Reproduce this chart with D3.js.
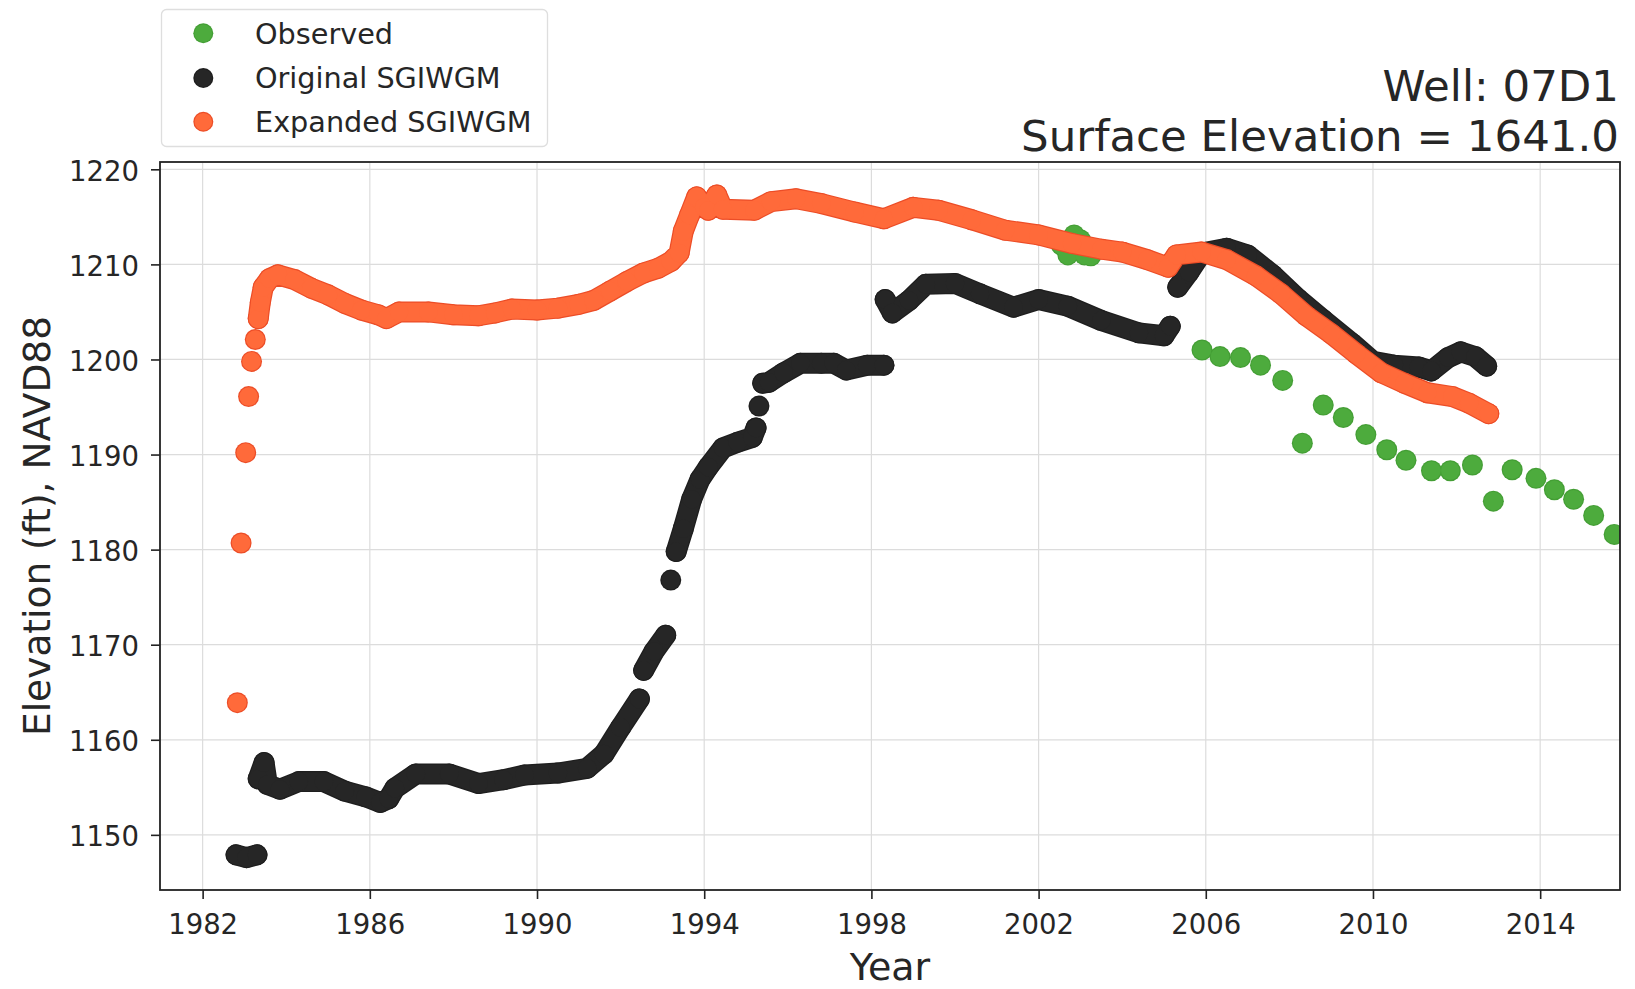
<!DOCTYPE html>
<html>
<head>
<meta charset="utf-8">
<script src="https://cdn.jsdelivr.net/npm/d3@7"></script>
<style>
  html, body { margin: 0; padding: 0; background: #fff; }
  svg { display: block; font-family: "DejaVu Sans", sans-serif; }
</style>
</head>
<body>
<svg id="chart" width="1635" height="989"></svg>
<script>
// ---------------- DATA ----------------
const xTickYears = [1982, 1986, 1990, 1994, 1998, 2002, 2006, 2010, 2014];
const yTickValues = [1150, 1160, 1170, 1180, 1190, 1200, 1210, 1220];

const seriesNames = ["Observed", "Original SGIWGM", "Expanded SGIWGM"];

// Observed (discrete measurements)
const obsYears  = [2002.55, 2002.7, 2002.85, 2003.0, 2003.1, 2003.25, 2003.32,
                   2005.91, 2006.34, 2006.83, 2007.31, 2007.84, 2008.31, 2008.81, 2009.29,
                   2009.83, 2010.33, 2010.79, 2011.4, 2011.85, 2012.38, 2012.88, 2013.33,
                   2013.9, 2014.34, 2014.8, 2015.28, 2015.77];
const obsValues = [1212.0, 1211.0, 1213.1, 1212.6, 1211.0, 1210.9, 1211.6,
                   1201.0, 1200.3, 1200.2, 1199.4, 1197.8, 1191.2, 1195.2, 1193.9,
                   1192.1, 1190.5, 1189.4, 1188.3, 1188.3, 1188.9, 1185.1, 1188.4,
                   1187.5, 1186.3, 1185.3, 1183.6, 1181.6];

// Original SGIWGM (null = gap in the record)
const origYears = [1982.8, 1983.05, 1983.3, null,
  1983.33, 1983.47, 1983.55, 1983.85, 1984.3, 1984.9, 1985.4, 1985.9, 1986.25, 1986.45, 1986.6,
  1987.1, 1987.9, 1988.6, 1989.2, 1989.7, 1990.5, 1991.2, 1991.6, 1992.0, 1992.45, null,
  1992.55, 1992.8, 1993.08, null,
  1993.2, null,
  1993.33, 1993.5, 1993.7, 1993.9, 1994.1, 1994.45, 1994.8, 1995.15, 1995.24, null,
  1995.31, null,
  1995.4, 1995.55, 1995.9, 1996.3, 1996.8, 1997.1, 1997.4, 1997.9, 1998.3, null,
  1998.33, 1998.5, 1998.9, 1999.3, 2000.0, 2000.6, 2001.4, 2002.0, 2002.7, 2003.5, 2004.4, 2005.0, 2005.15, null,
  2005.33, 2005.6, 2005.9, 2006.5, 2007.0, 2007.6, 2008.2, 2008.8, 2009.5, 2010.0, 2010.5, 2011.1,
  2011.4, 2011.8, 2012.1, 2012.45, 2012.72];
const origValues = [1147.9, 1147.6, 1147.9, null,
  1155.9, 1157.6, 1155.3, 1154.8, 1155.6, 1155.6, 1154.6, 1154.0, 1153.4, 1153.8, 1154.9,
  1156.4, 1156.4, 1155.4, 1155.8, 1156.3, 1156.5, 1157.0, 1158.5, 1161.3, 1164.3, null,
  1167.3, 1169.3, 1171.0, null,
  1176.8, null,
  1179.8, 1182.2, 1185.3, 1187.4, 1188.7, 1190.7, 1191.3, 1191.8, 1192.8, null,
  1195.1, null,
  1197.5, 1197.6, 1198.6, 1199.6, 1199.6, 1199.6, 1198.9, 1199.4, 1199.4, null,
  1206.3, 1204.9, 1206.2, 1207.9, 1208.0, 1206.9, 1205.5, 1206.3, 1205.6, 1204.1, 1202.8, 1202.5, 1203.5, null,
  1207.6, 1209.2, 1211.2, 1211.7, 1211.0, 1208.9, 1206.4, 1204.2, 1201.7, 1199.8, 1199.4, 1199.2,
  1198.8, 1200.2, 1200.8, 1200.3, 1199.3];

// Expanded SGIWGM (null = gap between separate points)
const expYears = [1982.83, null, 1982.92, null, 1983.03, null, 1983.10, null, 1983.17, null, 1983.26, null,
  1983.33, 1983.38, 1983.45, 1983.6, 1983.8, 1984.2, 1984.6, 1985.0, 1985.4, 1985.8, 1986.2, 1986.4,
  1986.7, 1987.4, 1988.0, 1988.6, 1989.0, 1989.4, 1990.0, 1990.5, 1991.0, 1991.35, 1991.75, 1992.15,
  1992.55, 1992.9, 1993.2, 1993.4, 1993.5, 1993.65, 1993.82, 1994.0, 1994.1, 1994.3, 1994.45, 1995.2,
  1995.6, 1996.2, 1996.8, 1997.6, 1998.3, 1999.0, 1999.6, 2000.4, 2001.2, 2002.0, 2002.8, 2003.5,
  2004.0, 2004.6, 2005.1, 2005.3, 2005.9, 2006.5, 2007.2, 2007.8, 2008.4, 2009.0, 2009.6, 2010.2,
  2010.75, 2011.3, 2011.9, 2012.3, 2012.77];
const expValues = [1163.9, null, 1180.7, null, 1190.2, null, 1196.1, null, 1199.8, null, 1202.1, null,
  1204.3, 1206.0, 1207.6, 1208.5, 1208.9, 1208.4, 1207.5, 1206.8, 1205.9, 1205.2, 1204.7, 1204.3,
  1205.0, 1205.0, 1204.7, 1204.6, 1204.9, 1205.3, 1205.2, 1205.4, 1205.8, 1206.2, 1207.2, 1208.2,
  1209.1, 1209.6, 1210.3, 1211.2, 1213.5, 1215.2, 1217.1, 1216.0, 1215.7, 1217.3, 1215.8, 1215.7,
  1216.6, 1216.9, 1216.4, 1215.5, 1214.8, 1216.0, 1215.7, 1214.7, 1213.6, 1213.1, 1212.2, 1211.6,
  1211.3, 1210.5, 1209.7, 1211.0, 1211.3, 1210.5, 1208.8, 1206.9, 1204.6, 1202.7, 1200.6, 1198.6,
  1197.5, 1196.5, 1196.1, 1195.4, 1194.3];

// ---------------- LAYOUT / STYLE ----------------
const plot = { left: 160, right: 1620, top: 162, bottom: 890 };
const R = 10.5;
const styles = {
  "Observed":        { face: "#4dab3d", edge: "#449e35", connect: false },
  "Original SGIWGM": { face: "#262626", edge: "#1e1e1e", connect: true },
  "Expanded SGIWGM": { face: "#ff6a3a", edge: "#ec4d27", connect: true }
};
const textColor = "#262626";

const svg = d3.select("#chart");
const x = d3.scaleLinear().domain([1980.98, 2015.91]).range([plot.left, plot.right]);
const y = d3.scaleLinear().domain([1144.2, 1220.77]).range([plot.bottom, plot.top]);

// grid
const grid = svg.append("g");
grid.selectAll("line.v").data(xTickYears).join("line")
  .attr("x1", d => x(d)).attr("x2", d => x(d))
  .attr("y1", plot.top).attr("y2", plot.bottom)
  .attr("stroke", "#dcdcdc").attr("stroke-width", 1.2);
grid.selectAll("line.h").data(yTickValues).join("line")
  .attr("x1", plot.left).attr("x2", plot.right)
  .attr("y1", d => y(d)).attr("y2", d => y(d))
  .attr("stroke", "#dcdcdc").attr("stroke-width", 1.2);

// series helpers
function runs(years, values) {
  const out = []; let cur = [];
  for (let i = 0; i < years.length; i++) {
    if (values[i] == null || years[i] == null) { if (cur.length) out.push(cur); cur = []; }
    else cur.push([years[i], values[i]]);
  }
  if (cur.length) out.push(cur);
  return out;
}
const line = d3.line().x(d => x(d[0])).y(d => y(d[1])).curve(d3.curveLinear);

const plotG = svg.append("g");
function drawSeries(name, years, values) {
  const st = styles[name];
  const segs = runs(years, values);
  const pts = segs.flat();
  const g = plotG.append("g");
  if (st.connect) {
    g.selectAll("path.edge").data(segs.filter(s => s.length > 1)).join("path")
      .attr("d", line).attr("fill", "none").attr("stroke", st.edge)
      .attr("stroke-width", 2 * R).attr("stroke-linecap", "round").attr("stroke-linejoin", "round");
  }
  g.selectAll("circle.edge").data(pts).join("circle")
    .attr("cx", d => x(d[0])).attr("cy", d => y(d[1])).attr("r", R).attr("fill", st.edge);
  if (st.connect) {
    g.selectAll("path.face").data(segs.filter(s => s.length > 1)).join("path")
      .attr("d", line).attr("fill", "none").attr("stroke", st.face)
      .attr("stroke-width", 2 * R - 2.4).attr("stroke-linecap", "round").attr("stroke-linejoin", "round");
  }
  g.selectAll("circle.face").data(pts).join("circle")
    .attr("cx", d => x(d[0])).attr("cy", d => y(d[1])).attr("r", R - 1.2).attr("fill", st.face);
}

svg.append("clipPath").attr("id", "clip").append("rect")
  .attr("x", plot.left).attr("y", plot.top)
  .attr("width", plot.right - plot.left).attr("height", plot.bottom - plot.top);
plotG.attr("clip-path", "url(#clip)");

drawSeries("Observed", obsYears, obsValues);
drawSeries("Original SGIWGM", origYears, origValues);
drawSeries("Expanded SGIWGM", expYears, expValues);

// frame
svg.append("rect").attr("x", plot.left).attr("y", plot.top)
  .attr("width", plot.right - plot.left).attr("height", plot.bottom - plot.top)
  .attr("fill", "none").attr("stroke", "#222").attr("stroke-width", 1.8);

// axes
const xAxis = svg.append("g").attr("transform", `translate(0,${plot.bottom})`)
  .call(d3.axisBottom(x).tickValues(xTickYears).tickFormat(d3.format("d")).tickSize(9).tickPadding(15));
const yAxis = svg.append("g").attr("transform", `translate(${plot.left},0)`)
  .call(d3.axisLeft(y).tickValues(yTickValues).tickFormat(d3.format("d")).tickSize(9).tickPadding(12));
[xAxis, yAxis].forEach(a => {
  a.select(".domain").remove();
  a.selectAll(".tick line").attr("stroke", "#222").attr("stroke-width", 1.6);
  a.selectAll(".tick text").attr("fill", textColor)
    .style("font-family", "DejaVu Sans").style("font-size", "27.5px");
});
yAxis.selectAll(".tick text").attr("dy", "0.4em");

// axis labels
svg.append("text").attr("x", (plot.left + plot.right) / 2).attr("y", 980)
  .attr("text-anchor", "middle").attr("fill", textColor)
  .style("font-size", "38px").text("Year");
svg.append("text").attr("transform", `translate(50,${(plot.top + plot.bottom) / 2}) rotate(-90)`)
  .attr("text-anchor", "middle").attr("fill", textColor)
  .style("font-size", "37.5px").text("Elevation (ft), NAVD88");

// title (right)
svg.append("text").attr("x", 1619).attr("y", 101).attr("text-anchor", "end")
  .attr("fill", textColor).style("font-size", "43.5px").text("Well: 07D1");
svg.append("text").attr("x", 1619).attr("y", 151).attr("text-anchor", "end")
  .attr("fill", textColor).style("font-size", "43.5px").text("Surface Elevation = 1641.0");

// legend
const leg = svg.append("g");
leg.append("rect").attr("x", 161.5).attr("y", 9.5).attr("width", 386).attr("height", 137)
  .attr("rx", 5).attr("fill", "#fff").attr("stroke", "#dedede").attr("stroke-width", 1.3);
const legY = [33.3, 78, 121.7];
seriesNames.forEach((n, i) => {
  const st = styles[n];
  leg.append("circle").attr("cx", 203.3).attr("cy", legY[i]).attr("r", 10).attr("fill", st.edge);
  leg.append("circle").attr("cx", 203.3).attr("cy", legY[i]).attr("r", 8.8).attr("fill", st.face);
  leg.append("text").attr("x", 255).attr("y", legY[i] + 10.3).attr("fill", textColor)
    .style("font-size", "28.7px").text(n);
});
</script>
</body>
</html>
